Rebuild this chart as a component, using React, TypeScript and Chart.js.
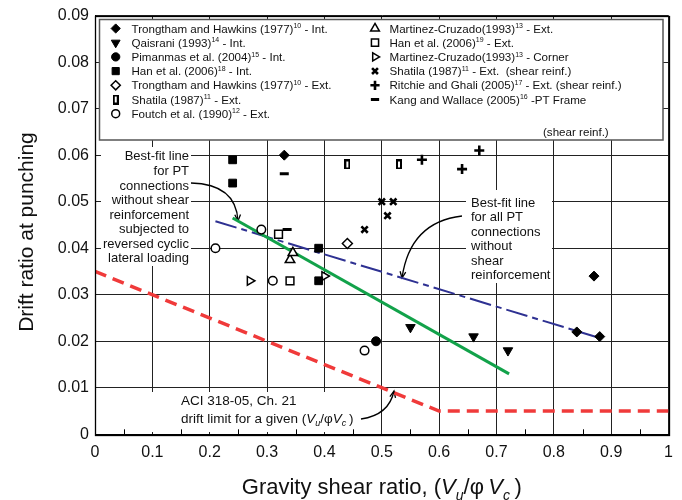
import React, { useEffect, useRef } from 'react';
import { Chart, registerables } from 'chart.js';
import { drawPoint } from 'chart.js/helpers';

Chart.register(...registerables);

// ---------- axes ----------
const xTickValues = [0, 0.1, 0.2, 0.3, 0.4, 0.5, 0.6, 0.7, 0.8, 0.9, 1];
const xTickLabels = ['0', '0.1', '0.2', '0.3', '0.4', '0.5', '0.6', '0.7', '0.8', '0.9', '1'];
const xMinorTicks = [0.05, 0.15, 0.25, 0.35, 0.45, 0.55, 0.65, 0.75, 0.85, 0.95];
const yTickValues = [0, 0.01, 0.02, 0.03, 0.04, 0.05, 0.06, 0.07, 0.08, 0.09];
const yTickLabels = ['0', '0.01', '0.02', '0.03', '0.04', '0.05', '0.06', '0.07', '0.08', '0.09'];

// ---------- data ----------
const trongthamIntX = [0.33, 0.87, 0.84, 0.88];
const trongthamIntY = [0.06, 0.034, 0.022, 0.021];
const qaisraniX = [0.55, 0.66, 0.72];
const qaisraniY = [0.023, 0.021, 0.018];
const pimanmasX = [0.49];
const pimanmasY = [0.02];
const hanIntX = [0.24, 0.24, 0.39, 0.39];
const hanIntY = [0.059, 0.054, 0.04, 0.033];
const trongthamExtX = [0.44];
const trongthamExtY = [0.041];
const shatilaExtX = [0.44, 0.53];
const shatilaExtY = [0.058, 0.058];
const foutchX = [0.21, 0.29, 0.31, 0.47];
const foutchY = [0.04, 0.044, 0.033, 0.018];
const martinezExtX = [0.34, 0.345];
const martinezExtY = [0.0375, 0.039];
const hanExtX = [0.32, 0.34];
const hanExtY = [0.043, 0.033];
const martinezCornerX = [0.27, 0.4];
const martinezCornerY = [0.033, 0.034];
const shatilaShearX = [0.47, 0.5, 0.52, 0.51];
const shatilaShearY = [0.044, 0.05, 0.05, 0.047];
const ritchieX = [0.57, 0.67, 0.64];
const ritchieY = [0.059, 0.061, 0.057];
const kangX = [0.33, 0.335];
const kangY = [0.056, 0.044];

const fitCyclicX = [0.24, 0.722];
const fitCyclicY = [0.0465, 0.013];
const fitAllX = [0.21, 0.88];
const fitAllY = [0.0458, 0.0207];
const aciX = [0, 0.6, 1];
const aciY = [0.035, 0.005, 0.005];

// ---------- styles ----------
const FONT = '"Liberation Sans", Arial, Helvetica, sans-serif';

function makeNarrowRect(): HTMLCanvasElement {
  const c = document.createElement('canvas');
  c.width = 6;
  c.height = 10;
  const g = c.getContext('2d')!;
  g.fillStyle = '#000';
  g.fillRect(0, 0, 6, 10);
  g.fillStyle = '#fff';
  g.fillRect(2, 2, 2, 6);
  return c;
}

type MStyle = { pointStyle: any; radius: number; bg: string; bw: number; rotation: number };

const narrowRect = makeNarrowRect();

const stFilledDiamond: MStyle = { pointStyle: 'rectRot', radius: 5, bg: '#000', bw: 1, rotation: 0 };
const stFilledTriDown: MStyle = { pointStyle: 'triangle', radius: 5.5, bg: '#000', bw: 1, rotation: 180 };
const stFilledCircle: MStyle = { pointStyle: 'circle', radius: 4.5, bg: '#000', bw: 1, rotation: 0 };
const stFilledSquare: MStyle = { pointStyle: 'rect', radius: 5.5, bg: '#000', bw: 1, rotation: 0 };
const stOpenDiamond: MStyle = { pointStyle: 'rectRot', radius: 5, bg: '#fff', bw: 1.5, rotation: 0 };
const stNarrowRect: MStyle = { pointStyle: narrowRect, radius: 5, bg: '#fff', bw: 1.5, rotation: 0 };
const stOpenCircle: MStyle = { pointStyle: 'circle', radius: 4.3, bg: '#fff', bw: 1.5, rotation: 0 };
const stOpenTriUp: MStyle = { pointStyle: 'triangle', radius: 5.5, bg: '#fff', bw: 1.5, rotation: 0 };
const stOpenSquare: MStyle = { pointStyle: 'rect', radius: 5.5, bg: '#fff', bw: 1.5, rotation: 0 };
const stOpenTriRight: MStyle = { pointStyle: 'triangle', radius: 5, bg: '#fff', bw: 1.5, rotation: 90 };
const stCross: MStyle = { pointStyle: 'crossRot', radius: 4.5, bg: '#000', bw: 2.6, rotation: 0 };
const stPlus: MStyle = { pointStyle: 'cross', radius: 5, bg: '#000', bw: 2.6, rotation: 0 };
const stDash: MStyle = { pointStyle: 'line', radius: 4.5, bg: '#000', bw: 3, rotation: 0 };

function pts(xs: number[], ys: number[]) {
  return xs.map((x, i) => ({ x, y: ys[i] }));
}

function markerSet(label: string, xs: number[], ys: number[], s: MStyle) {
  return {
    label,
    data: pts(xs, ys),
    showLine: false,
    pointStyle: s.pointStyle,
    pointRadius: s.radius,
    pointHoverRadius: s.radius,
    pointBackgroundColor: s.bg,
    pointBorderColor: '#000',
    pointBorderWidth: s.bw,
    pointRotation: s.rotation,
  };
}

function lineSet(label: string, xs: number[], ys: number[], color: string, width: number, dash: number[]) {
  return {
    label,
    data: pts(xs, ys),
    showLine: true,
    borderColor: color,
    borderWidth: width,
    borderDash: dash,
    pointRadius: 0,
    pointHoverRadius: 0,
    fill: false,
    tension: 0,
  };
}

type Part = [string, string?];

function partFont(kind: string | undefined, size: number) {
  const small = Math.round(size * 0.63);
  if (kind === 'sup') return `${small}px ${FONT}`;
  if (kind === 'i') return `italic ${size}px ${FONT}`;
  if (kind === 'isub') return `italic ${small}px ${FONT}`;
  return `${size}px ${FONT}`;
}

function drawRich(ctx: CanvasRenderingContext2D, parts: Part[], x: number, y: number, size: number, align = 'left') {
  ctx.textBaseline = 'alphabetic';
  ctx.textAlign = 'left';
  const widths = parts.map((p) => {
    ctx.font = partFont(p[1], size);
    return ctx.measureText(p[0]).width;
  });
  const total = widths.reduce((a, b) => a + b, 0);
  let cx = align === 'right' ? x - total : align === 'center' ? x - total / 2 : x;
  const base = y + size * 0.36;
  parts.forEach((p, i) => {
    ctx.font = partFont(p[1], size);
    let dy = 0;
    if (p[1] === 'sup') dy = -size * 0.38;
    if (p[1] === 'isub') dy = size * 0.24;
    ctx.fillText(p[0], cx, base + dy);
    cx += widths[i];
  });
}

function arrow(ctx: CanvasRenderingContext2D, x0: number, y0: number, qx: number, qy: number, x1: number, y1: number) {
  ctx.beginPath();
  ctx.moveTo(x0, y0);
  ctx.quadraticCurveTo(qx, qy, x1, y1);
  ctx.stroke();
  const ang = Math.atan2(y1 - qy, x1 - qx);
  const L = 7;
  const a = 0.42;
  ctx.beginPath();
  ctx.moveTo(x1 - L * Math.cos(ang - a), y1 - L * Math.sin(ang - a));
  ctx.lineTo(x1, y1);
  ctx.lineTo(x1 - L * Math.cos(ang + a), y1 - L * Math.sin(ang + a));
  ctx.stroke();
}

const legendLeft: [MStyle, Part[]][] = [
  [stFilledDiamond, [['Trongtham and Hawkins (1977)'], ['10', 'sup'], [' - Int.']]],
  [stFilledTriDown, [['Qaisrani (1993)'], ['14', 'sup'], [' - Int.']]],
  [stFilledCircle, [['Pimanmas et al. (2004)'], ['15', 'sup'], [' - Int.']]],
  [stFilledSquare, [['Han et al. (2006)'], ['18', 'sup'], [' - Int.']]],
  [stOpenDiamond, [['Trongtham and Hawkins (1977)'], ['10', 'sup'], [' - Ext.']]],
  [stNarrowRect, [['Shatila (1987)'], ['11', 'sup'], [' - Ext.']]],
  [stOpenCircle, [['Foutch et al. (1990)'], ['12', 'sup'], [' - Ext.']]],
];
const legendRight: [MStyle, Part[]][] = [
  [stOpenTriUp, [['Martinez-Cruzado(1993)'], ['13', 'sup'], [' - Ext.']]],
  [stOpenSquare, [['Han et al. (2006)'], ['19', 'sup'], [' - Ext.']]],
  [stOpenTriRight, [['Martinez-Cruzado(1993)'], ['13', 'sup'], [' - Corner']]],
  [stCross, [['Shatila (1987)'], ['11', 'sup'], [' - Ext.  (shear reinf.)']]],
  [stPlus, [['Ritchie and Ghali (2005)'], ['17', 'sup'], [' - Ext. (shear reinf.)']]],
  [stDash, [['Kang and Wallace (2005)'], ['16', 'sup'], [' -PT Frame']]],
];

function drawMarker(ctx: CanvasRenderingContext2D, s: MStyle, x: number, y: number) {
  ctx.save();
  ctx.fillStyle = s.bg;
  ctx.strokeStyle = '#000';
  ctx.lineWidth = s.bw;
  drawPoint(ctx, { pointStyle: s.pointStyle, rotation: s.rotation, radius: s.radius * 0.92, borderWidth: s.bw } as any, x, y);
  ctx.restore();
}

const LEGEND_FONT = 11.6;

const decorPlugin = {
  id: 'decor',
  beforeDatasetsDraw(chart: any) {
    const ctx: CanvasRenderingContext2D = chart.ctx;
    ctx.save();
    // white backgrounds behind annotations
    ctx.fillStyle = '#fff';
    ctx.fillRect(101, 147, 90, 119);
    ctx.fillRect(466, 190, 86, 93);
    ctx.fillRect(101, 392, 265, 40);

    ctx.fillStyle = '#111';
    const a1 = ['Best-fit line', 'for PT', 'connections', 'without shear', 'reinforcement', 'subjected to', 'reversed cyclic', 'lateral loading'];
    a1.forEach((t, i) => drawRich(ctx, [[t]], 189, 155.7 + 14.57 * i, 13, 'right'));
    const a2 = ['Best-fit line', 'for all PT', 'connections', 'without', 'shear', 'reinforcement'];
    a2.forEach((t, i) => drawRich(ctx, [[t]], 471, 202.3 + 14.5 * i, 13, 'left'));
    drawRich(ctx, [['ACI 318-05, Ch. 21']], 181, 400, 13.5, 'left');
    drawRich(
      ctx,
      [['drift limit for a given ('], ['V', 'i'], ['u', 'isub'], ['/\u03c6'], ['V', 'i'], ['c', 'isub'], ['\u2009)']],
      181,
      418.3,
      13.5,
      'left'
    );

    ctx.strokeStyle = '#000';
    ctx.lineWidth = 1.3;
    arrow(ctx, 191, 183, 236, 184, 238, 221);
    arrow(ctx, 462, 216, 410, 222, 402, 278);
    arrow(ctx, 361, 419, 389, 415, 394, 391);

    // legend box
    ctx.fillStyle = '#fff';
    ctx.fillRect(99.5, 19.5, 563.5, 120.5);
    ctx.strokeStyle = '#555';
    ctx.lineWidth = 1.5;
    ctx.strokeRect(99.5, 19.5, 563.5, 120.5);

    legendLeft.forEach(([s, parts], i) => {
      const y = 28.5 + 14.2 * i;
      drawMarker(ctx, s, 115.7, y);
      ctx.fillStyle = '#111';
      drawRich(ctx, parts, 131.5, y, LEGEND_FONT, 'left');
    });
    legendRight.forEach(([s, parts], i) => {
      const y = 28.5 + 14.2 * i;
      drawMarker(ctx, s, 375, y);
      ctx.fillStyle = '#111';
      drawRich(ctx, parts, 389.5, y, LEGEND_FONT, 'left');
    });
    ctx.fillStyle = '#111';
    drawRich(ctx, [['(shear reinf.)']], 543, 131.5, LEGEND_FONT, 'left');
    ctx.restore();
  },
  afterDatasetsDraw(chart: any) {
    const ctx: CanvasRenderingContext2D = chart.ctx;
    const { left, right, top, bottom } = chart.chartArea;
    const xs = chart.scales.x;
    ctx.save();
    ctx.strokeStyle = '#000';
    ctx.lineWidth = 1;
    xMinorTicks.forEach((v) => {
      const px = Math.round(xs.getPixelForValue(v)) + 0.5;
      ctx.beginPath();
      ctx.moveTo(px, bottom);
      ctx.lineTo(px, bottom - 5);
      ctx.stroke();
    });
    ctx.lineWidth = 1.3;
    ctx.strokeRect(Math.round(left) + 0.5, Math.round(top) + 0.5, Math.round(right - left), Math.round(bottom - top));
    ctx.restore();
  },
  afterDraw(chart: any) {
    const ctx: CanvasRenderingContext2D = chart.ctx;
    const { left, right } = chart.chartArea;
    ctx.save();
    ctx.fillStyle = '#111';
    drawRich(
      ctx,
      [['Gravity shear ratio, ('], ['V', 'i'], ['u', 'isub'], ['/\u03c6\u2009'], ['V', 'i'], ['c', 'isub'], ['\u2009)']],
      (left + right) / 2,
      486.5,
      22,
      'center'
    );
    ctx.translate(25, 232);
    ctx.rotate(-Math.PI / 2);
    drawRich(ctx, [['Drift ratio at punching']], 0, 0, 21, 'center');
    ctx.restore();
  },
};

export default function App() {
  const ref = useRef<HTMLCanvasElement>(null);
  useEffect(() => {
    document.body.style.margin = '0';
    const canvas = ref.current!;
    const tickFont = { family: FONT, size: 16 };
    const chart = new Chart(canvas, {
      type: 'scatter',
      data: {
        datasets: [
          markerSet('Trongtham Int', trongthamIntX, trongthamIntY, stFilledDiamond),
          markerSet('Qaisrani', qaisraniX, qaisraniY, stFilledTriDown),
          markerSet('Pimanmas', pimanmasX, pimanmasY, stFilledCircle),
          markerSet('Han Int', hanIntX, hanIntY, stFilledSquare),
          markerSet('Trongtham Ext', trongthamExtX, trongthamExtY, stOpenDiamond),
          markerSet('Shatila Ext', shatilaExtX, shatilaExtY, stNarrowRect),
          markerSet('Foutch', foutchX, foutchY, stOpenCircle),
          markerSet('Martinez Ext', martinezExtX, martinezExtY, stOpenTriUp),
          markerSet('Han Ext', hanExtX, hanExtY, stOpenSquare),
          markerSet('Martinez Corner', martinezCornerX, martinezCornerY, stOpenTriRight),
          markerSet('Shatila shear', shatilaShearX, shatilaShearY, stCross),
          markerSet('Ritchie', ritchieX, ritchieY, stPlus),
          markerSet('Kang', kangX, kangY, stDash),
          lineSet('Best fit cyclic', fitCyclicX, fitCyclicY, '#12a24a', 3, []),
          lineSet('Best fit all', fitAllX, fitAllY, '#2e3192', 2, [22, 5, 6, 5]),
          lineSet('ACI limit', aciX, aciY, '#f03a3a', 3.5, [12, 7]),
        ] as any,
      },
      options: {
        animation: false,
        responsive: false,
        devicePixelRatio: 1,
        layout: { padding: { left: 0, right: 11.3, top: 15, bottom: 0 } },
        plugins: { legend: { display: false }, tooltip: { enabled: false } },
        scales: {
          x: {
            type: 'linear',
            min: 0,
            max: 1,
            afterBuildTicks: (s: any) => {
              s.ticks = xTickValues.map((v) => ({ value: v }));
            },
            afterFit: (s: any) => {
              s.height = 65.7;
            },
            ticks: {
              callback: (_v: any, i: number) => xTickLabels[i],
              font: tickFont,
              color: '#111',
              padding: 9,
              maxRotation: 0,
              autoSkip: false,
            },
            grid: { color: '#222', lineWidth: 1, drawTicks: false },
            border: { color: '#000', width: 1 },
          },
          y: {
            type: 'linear',
            min: 0,
            max: 0.09,
            afterBuildTicks: (s: any) => {
              s.ticks = yTickValues.map((v) => ({ value: v }));
            },
            afterFit: (s: any) => {
              s.width = 95;
            },
            ticks: {
              callback: (_v: any, i: number) => yTickLabels[i],
              font: tickFont,
              color: '#111',
              padding: 6,
              autoSkip: false,
            },
            grid: { color: '#222', lineWidth: 1, drawTicks: false },
            border: { color: '#000', width: 1 },
          },
        },
      } as any,
      plugins: [decorPlugin],
    });
    return () => chart.destroy();
  }, []);
  return (
    <div style={{ width: 682, height: 500 }}>
      <canvas ref={ref} width={682} height={500} style={{ display: 'block' }} />
    </div>
  );
}
